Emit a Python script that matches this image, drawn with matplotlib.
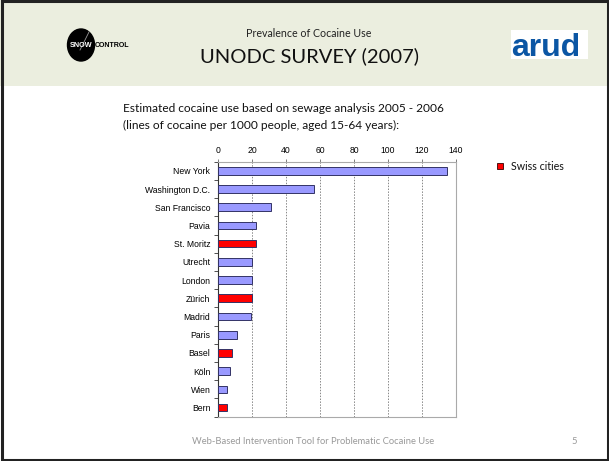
import matplotlib
matplotlib.use("Agg")
import matplotlib.pyplot as plt
from matplotlib.patches import Rectangle, Ellipse
import numpy as np

# ── data ──────────────────────────────────────────────────────────────────────
cities = ["New York", "Washington D.C.", "San Francisco", "Pavia", "St. Moritz",
          "Utrecht", "London", "Zürich", "Madrid", "Paris", "Basel", "Köln",
          "Wien", "Bern"]
lines_per_1000 = [134.5, 56.5, 31, 22.3, 22.6, 20, 20, 20.2, 19.4, 11.2, 8.2, 7, 5.3, 5.3]
swiss = ["St. Moritz", "Zürich", "Basel", "Bern"]
x_ticks = [0, 20, 40, 60, 80, 100, 120, 140]

# ── style ─────────────────────────────────────────────────────────────────────
W, H = 609, 461
BLUE_BAR = "#9999FF"
RED_BAR = "#FF0000"
EDGE = "#333366"
HEADER_BG = "#EBEEDF"
SLIDE_FONT = "Lato"
CHART_FONT = "Liberation Sans"

fig = plt.figure(figsize=(W / 100, H / 100), dpi=100)
fig.patch.set_facecolor("white")

def fx(px):
    return px / W

def fy(py):
    return 1 - py / H

# header band + slide frame
fig.patches.append(Rectangle((0, fy(86)), 1, 86 / H, transform=fig.transFigure,
                             facecolor=HEADER_BG, edgecolor="none", zorder=0))
fig.patches.append(Rectangle((fx(1.5), fy(459.5)), fx(606), 458 / H, transform=fig.transFigure,
                             facecolor="none", edgecolor="#222222", linewidth=2.2, zorder=5))

# header texts
fig.text(fx(309), fy(33), "Prevalence of Cocaine Use", ha="center", va="center",
         fontsize=7.7, family=SLIDE_FONT, color="#222222")
fig.text(fx(310), fy(56), "UNODC SURVEY (2007)", ha="center", va="center",
         fontsize=14.5, family=SLIDE_FONT, color="#111111")

# snow control logo
logo = fig.add_axes([fx(66), fy(62), fx(70), 34 / H], zorder=3)
logo.set_xlim(66, 136)
logo.set_ylim(62, 28)
logo.axis("off")
logo.add_patch(Ellipse((81, 45), 27, 32, color="black"))
logo.plot([80, 89], [50, 32], color="#999999", lw=0.6)
logo.text(81, 45.5, "SNOW", color="white", fontsize=5.2, fontweight="bold",
          ha="center", va="center", family=CHART_FONT)
logo.text(95, 45.5, "CONTROL", color="black", fontsize=5, fontweight="bold",
          ha="left", va="center", family=CHART_FONT)

# arud logo
fig.patches.append(Rectangle((fx(511), fy(59)), fx(77), 29 / H, transform=fig.transFigure,
                             facecolor="white", edgecolor="none", zorder=1))
fig.text(fx(546), fy(56.5), "arud", ha="center", va="baseline", fontsize=23,
         fontweight="bold", color="#0B56A4", family=CHART_FONT, zorder=2)

# body text
fig.text(fx(123), fy(108), "Estimated cocaine use based on sewage analysis 2005 - 2006",
         ha="left", va="center", fontsize=8.6, family=SLIDE_FONT, color="#111111")
fig.text(fx(123), fy(125), "(lines of cocaine per 1000 people, aged 15-64 years):",
         ha="left", va="center", fontsize=8.6, family=SLIDE_FONT, color="#111111")

# footer
fig.text(fx(313), fy(441), "Web-Based Intervention Tool for Problematic Cocaine Use",
         ha="center", va="center", fontsize=6.75, family=SLIDE_FONT, color="#999999")
fig.text(fx(574), fy(441), "5", ha="center", va="center", fontsize=6.75,
         family=SLIDE_FONT, color="#999999")

# ── bar chart ─────────────────────────────────────────────────────────────────
ax = fig.add_axes([fx(218), fy(416.7), fx(456 - 218), (416.7 - 161.7) / H])
y = np.arange(len(cities))
colors = [RED_BAR if c in swiss else BLUE_BAR for c in cities]
ax.barh(y, lines_per_1000, height=0.42, color=colors, edgecolor=EDGE, linewidth=0.7, zorder=3)

ax.set_xlim(0, 140)
ax.set_ylim(len(cities) - 0.5, -0.5)
ax.xaxis.tick_top()
ax.set_xticks(x_ticks)
ax.set_xticklabels([str(t) for t in x_ticks], fontsize=6.2, family=CHART_FONT)
ax.tick_params(axis="x", length=2.5, width=0.6, color="#666666", pad=2.5)
ax.set_yticks(y)
ax.set_yticklabels(cities, fontsize=6.2, family=CHART_FONT)
ax.tick_params(axis="y", length=0, pad=5.5)
ax.set_yticks(np.arange(len(cities) + 1) - 0.5, minor=True)
ax.tick_params(axis="y", which="minor", length=3, width=0.6, color="#333333")
ax.grid(axis="x", linestyle=(0, (1.5, 1.5)), color="#888888", linewidth=0.7, zorder=1)
for side in ["top", "right", "bottom"]:
    ax.spines[side].set_color("#aaaaaa")
    ax.spines[side].set_linewidth(0.8)
ax.spines["left"].set_color("#333333")
ax.spines["left"].set_linewidth(0.8)

# legend
fig.patches.append(Rectangle((fx(497), fy(169)), fx(5.5), 5.5 / H, transform=fig.transFigure,
                             facecolor=RED_BAR, edgecolor="#330000", linewidth=0.6, zorder=3))
fig.text(fx(511), fy(166), "Swiss cities", ha="left", va="center", fontsize=7.7,
         family=SLIDE_FONT, color="#111111")

fig.savefig("out.png", dpi=100)
